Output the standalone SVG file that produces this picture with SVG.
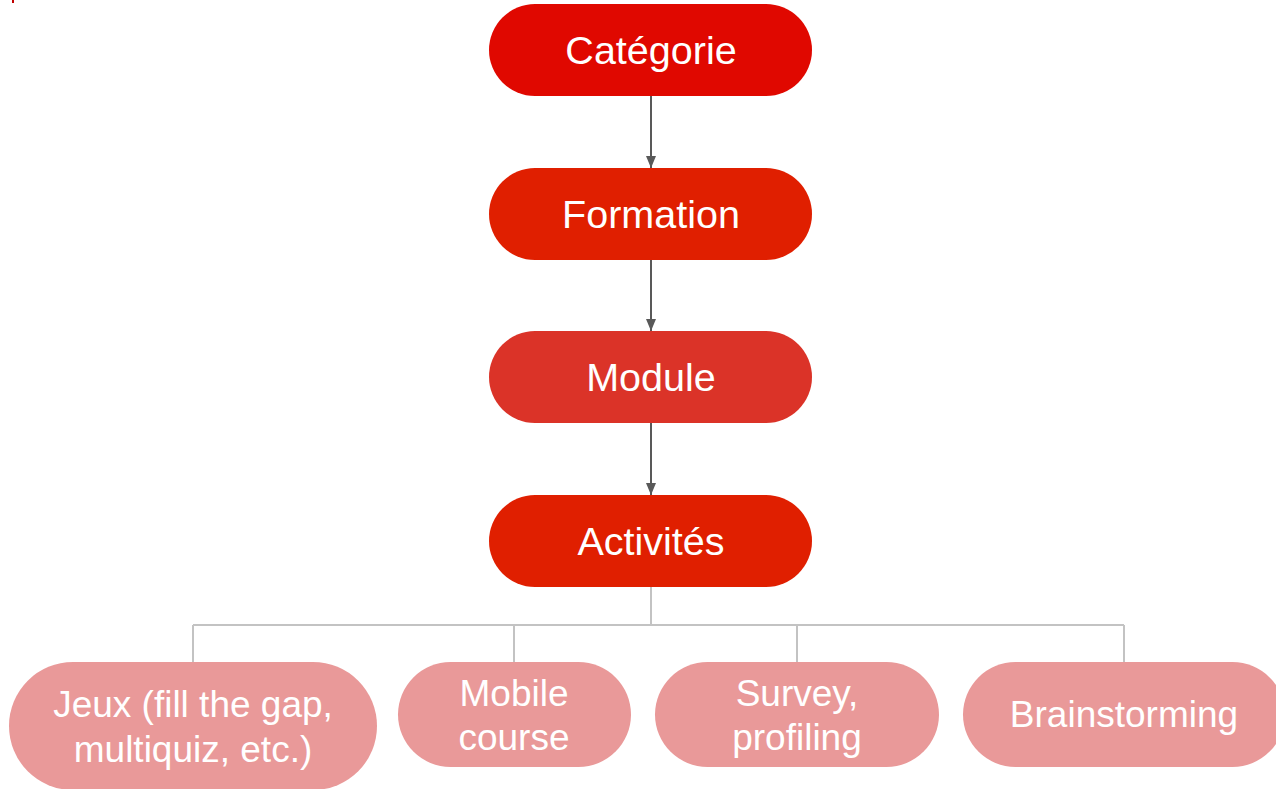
<svg xmlns="http://www.w3.org/2000/svg" width="1276" height="789" viewBox="0 0 1276 789">
<defs>
<style>
.t{font-family:"Liberation Sans",Arial,sans-serif;fill:#ffffff;text-anchor:middle}
.big{font-size:39.5px}
.sm{font-size:37px}
.arrow{stroke:#595959;stroke-width:2;fill:none}
.tree{stroke:#c3c3c3;stroke-width:2;fill:none}
.leaf{fill:#e99999}
</style>
<marker id="ah" markerWidth="12" markerHeight="10" refX="12" refY="5" orient="auto" markerUnits="userSpaceOnUse" viewBox="0 0 12 10">
<path d="M0,0 L12,5 L0,10 Z" fill="#595959"/>
</marker>
</defs>
<rect width="1276" height="789" fill="#ffffff"/>
<rect x="12" y="0" width="2" height="3" fill="#c00000"/>
<g id="connectors">
<line class="arrow" x1="651" y1="96" x2="651" y2="168" marker-end="url(#ah)"/>
<line class="arrow" x1="651" y1="260" x2="651" y2="331" marker-end="url(#ah)"/>
<line class="arrow" x1="651" y1="423" x2="651" y2="495" marker-end="url(#ah)"/>
<path class="tree" d="M651,587 V625 M193,625 H1124 M193,625 V662 M514,625 V662 M797,625 V662 M1124,625 V662"/>
</g>
<g id="categorie">
<rect x="489" y="4" width="323" height="92" rx="46" fill="#e00800"/>
<text class="t big" x="651" y="64">Catégorie</text>
</g>
<g id="formation">
<rect x="489" y="168" width="323" height="92" rx="46" fill="#e01f00"/>
<text class="t big" x="651" y="228">Formation</text>
</g>
<g id="module">
<rect x="489" y="331" width="323" height="92" rx="46" fill="#db3328"/>
<text class="t big" x="651" y="391">Module</text>
</g>
<g id="activites">
<rect x="489" y="495" width="323" height="92" rx="46" fill="#e01f00"/>
<text class="t big" x="651" y="555">Activités</text>
</g>
<g id="jeux">
<rect class="leaf" x="9" y="662" width="368" height="128" rx="64"/>
<text class="t sm" x="193" y="717">Jeux (fill the gap,</text>
<text class="t sm" x="193" y="762">multiquiz, etc.)</text>
</g>
<g id="mobile">
<rect class="leaf" x="398" y="662" width="233" height="105" rx="52.5"/>
<text class="t sm" x="514" y="706">Mobile</text>
<text class="t sm" x="514" y="750">course</text>
</g>
<g id="survey">
<rect class="leaf" x="655" y="662" width="284" height="105" rx="52.5"/>
<text class="t sm" x="797" y="706">Survey,</text>
<text class="t sm" x="797" y="750">profiling</text>
</g>
<g id="brainstorming">
<rect class="leaf" x="963" y="662" width="322" height="105" rx="52.5"/>
<text class="t sm" x="1124" y="727">Brainstorming</text>
</g>
</svg>
